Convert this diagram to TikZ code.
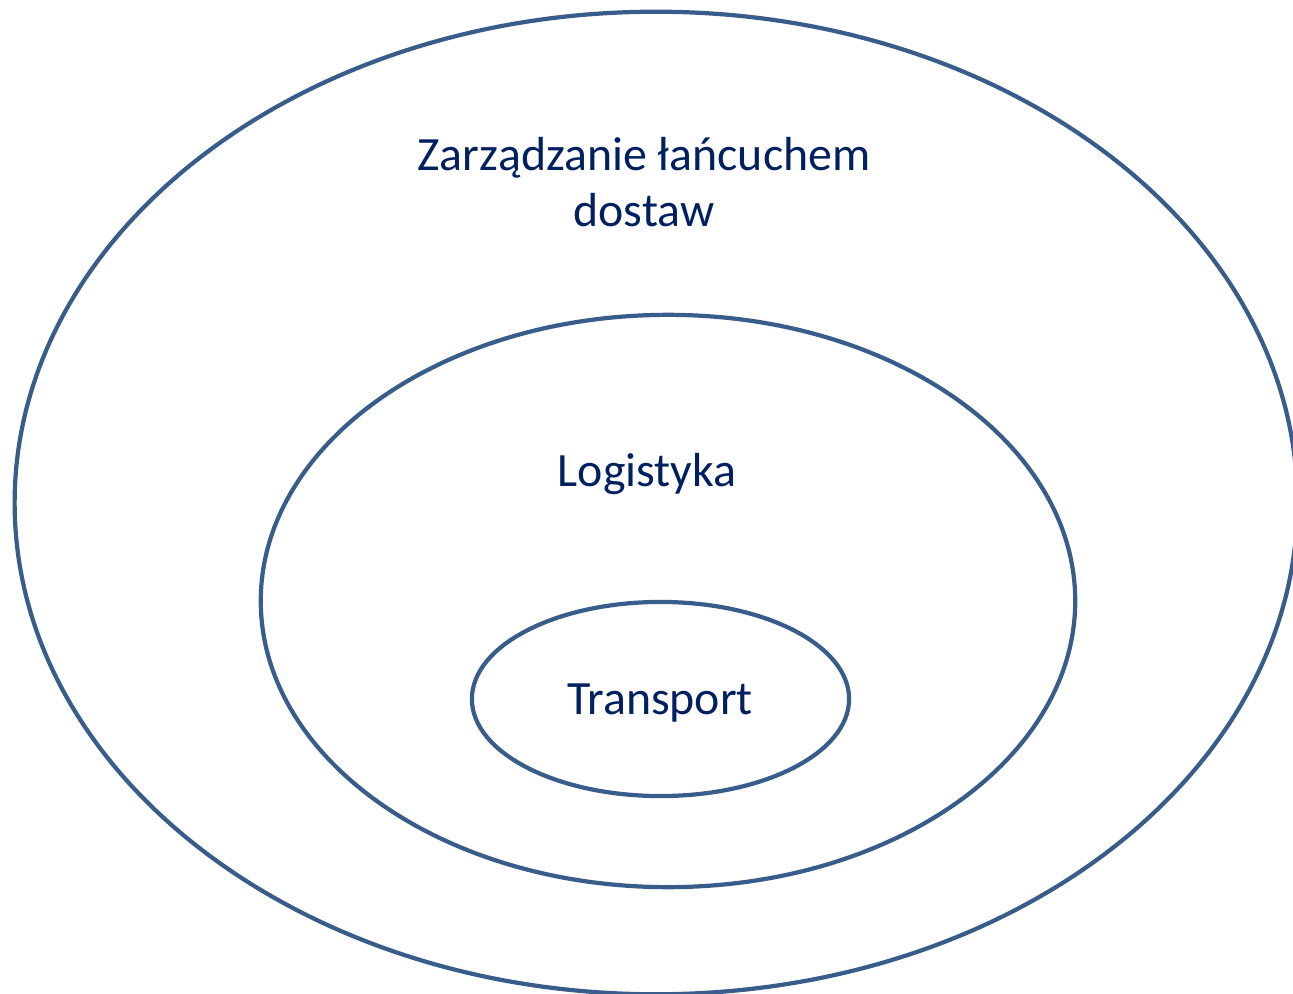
\documentclass[tikz,border=0pt]{standalone}
\usepackage{xcolor}
\definecolor{ring}{HTML}{385D8A}
\definecolor{label}{HTML}{002060}
\usepackage{fontspec}
\setmainfont{Carlito}
\usepackage{tikz}
\usetikzlibrary{shapes.geometric}
\begin{document}
\begin{tikzpicture}[x=0.01cm,y=-0.01cm,line width=1.2pt,
    zone/.style={draw=ring,ellipse,inner sep=0pt},
    word/.style={text=label,font=\fontsize{13.6}{16.2}\selectfont,anchor=base,inner sep=0pt}]
      \useasboundingbox (0,0) rectangle (1293,994);
      \clip (0,0) rectangle (1293,994);
      % three nested areas
      \node[zone,minimum width=12.82cm,minimum height=9.82cm](scm) at (656,503) {};
      \node[zone,minimum width=8.14cm,minimum height=5.72cm](log) at (668,601) {};
      \node[zone,minimum width=3.77cm,minimum height=1.94cm](trn) at (660.5,699) {};
      % labels
      \node[word,align=center](scmlabel) at (644,227) {Zarządzanie łańcuchem\\dostaw};
      \node[word](loglabel) at (647,486) {Logistyka};
      \node[word](trnlabel) at (660,715) {Transport};
\end{tikzpicture}
\end{document}
